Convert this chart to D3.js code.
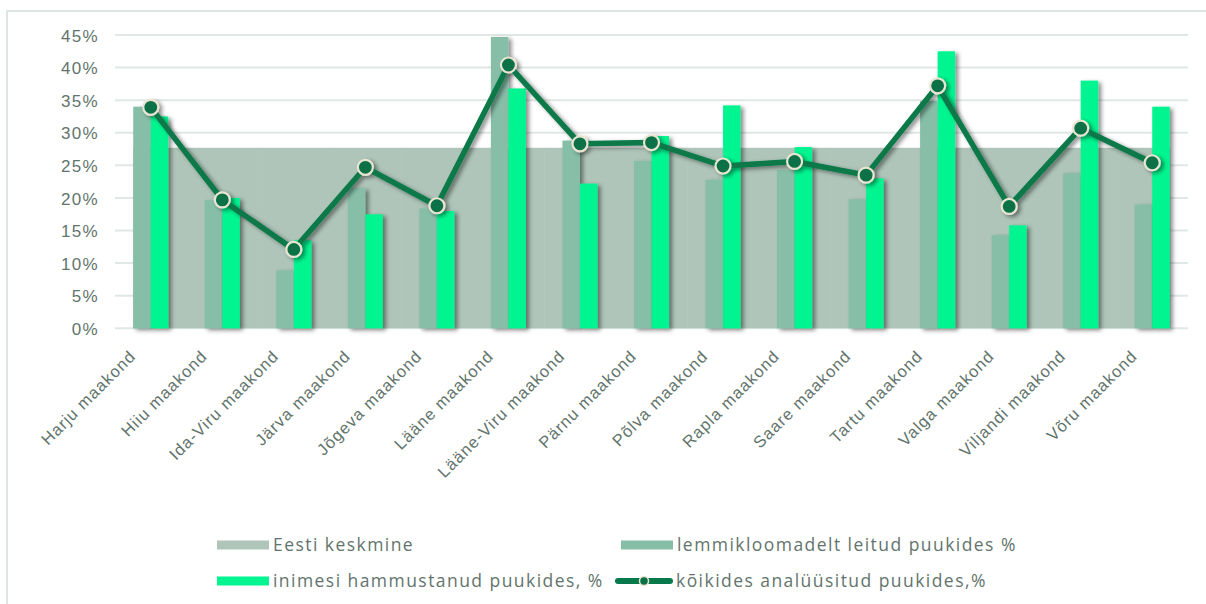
<!DOCTYPE html>
<html>
<head>
<meta charset="utf-8">
<script src="https://cdn.jsdelivr.net/npm/d3@7"></script>
<style>
  html, body { margin: 0; padding: 0; background: #ffffff; }
  svg { display: block; font-family: "Open Sans", "Noto Sans", sans-serif; }
</style>
</head>
<body>
<svg id="chart" width="1206" height="604"></svg>
<script>
// Counties
const categories = [
  "Harju maakond", "Hiiu maakond", "Ida-Viru maakond", "Järva maakond",
  "Jõgeva maakond", "Lääne maakond", "Lääne-Viru maakond", "Pärnu maakond",
  "Põlva maakond", "Rapla maakond", "Saare maakond", "Tartu maakond",
  "Valga maakond", "Viljandi maakond", "Võru maakond"
];
// Estonian average (%)
const eestiKeskmine = [27.7, 27.7, 27.7, 27.7, 27.7, 27.7, 27.7, 27.7, 27.7, 27.7, 27.7, 27.7, 27.7, 27.7, 27.7];
// Ticks removed from pets (%)
const lemmikloomad = [34.0, 19.7, 8.9, 21.5, 18.4, 44.7, 28.8, 25.7, 22.8, 24.3, 19.8, 34.9, 14.3, 23.8, 19.0];
// Ticks that bit people (%)
const inimesed = [32.5, 20.0, 13.5, 17.5, 18.0, 36.8, 22.2, 29.5, 34.2, 27.8, 23.0, 42.5, 15.8, 38.0, 34.0];
// All analysed ticks (%)
const koik = [33.9, 19.7, 12.1, 24.7, 18.8, 40.4, 28.3, 28.5, 24.9, 25.6, 23.5, 37.2, 18.7, 30.7, 25.4];
// Y-axis ticks
const yTicks = [0, 5, 10, 15, 20, 25, 30, 35, 40, 45];

const legendLabels = [
  "Eesti keskmine",
  "lemmikloomadelt leitud puukides %",
  "inimesi hammustanud puukides, %",
  "kõikides analüüsitud puukides,%"
];

const colors = {
  avg: "#afc5b9",
  pets: "#86bea8",
  people: "#00f590",
  line: "#08794a",
  marker: "#0a7147",
  markerRing: "#e9e5d2",
  grid: "#dfe8e5",
  text: "#62746c",
  frame: "#dde6e2"
};

const svg = d3.select("#chart");

const defs = svg.append("defs");
const shadow = defs.append("filter").attr("id", "shadow")
  .attr("x", "-30%").attr("y", "-10%").attr("width", "180%").attr("height", "130%");
shadow.append("feDropShadow")
  .attr("dx", 3).attr("dy", 2).attr("stdDeviation", 2)
  .attr("flood-color", "#000").attr("flood-opacity", 0.45);

// outer frame
svg.append("rect")
  .attr("x", 7).attr("y", 11).attr("width", 1240).attr("height", 640)
  .attr("fill", "none").attr("stroke", colors.frame).attr("stroke-width", 2);

const plotLeft = 115, plotRight = 1188, plotTop = 35, plotBottom = 328.3;

const x = d3.scaleBand().domain(categories).range([plotLeft, plotRight]).paddingInner(0).paddingOuter(0);
const y = d3.scaleLinear().domain([0, 45]).range([plotBottom, plotTop]);

const step = x.bandwidth();
const barW = step * 0.245;
const center = c => x(c) + step / 2;

// gridlines
svg.append("g").selectAll("line").data(yTicks).join("line")
  .attr("x1", plotLeft).attr("x2", plotRight)
  .attr("y1", d => y(d)).attr("y2", d => y(d))
  .attr("stroke", colors.grid).attr("stroke-width", 2);

// y axis labels
const yAxis = d3.axisLeft(y).tickValues(yTicks).tickFormat(d => d + "%").tickSize(0).tickPadding(0);
const yg = svg.append("g").attr("transform", `translate(${99},0)`).call(yAxis);
yg.select(".domain").remove();
yg.selectAll("text")
  .attr("fill", colors.text).attr("font-size", 17).attr("letter-spacing", 1.3)
  .attr("dy", "0.36em").attr("text-anchor", "end");

// Estonian average as a continuous block behind the county bars
const firstLeft = center(categories[0]) - barW;
const lastRight = center(categories[categories.length - 1]) + barW;
svg.append("g").selectAll("rect").data(categories).join("rect")
  .attr("x", c => Math.max(x(c), firstLeft))
  .attr("width", c => Math.min(x(c) + step, lastRight) - Math.max(x(c), firstLeft) + 0.5)
  .attr("y", (c, i) => y(eestiKeskmine[i]))
  .attr("height", (c, i) => plotBottom - y(eestiKeskmine[i]))
  .attr("fill", colors.avg);

// pet tick bars
svg.append("g").attr("filter", "url(#shadow)").selectAll("rect").data(categories).join("rect")
  .attr("x", c => center(c) - barW)
  .attr("width", barW)
  .attr("y", (c, i) => y(lemmikloomad[i]))
  .attr("height", (c, i) => plotBottom - y(lemmikloomad[i]))
  .attr("fill", colors.pets);

// human-bite tick bars
svg.append("g").attr("filter", "url(#shadow)").selectAll("rect").data(categories).join("rect")
  .attr("x", c => center(c))
  .attr("width", barW)
  .attr("y", (c, i) => y(inimesed[i]))
  .attr("height", (c, i) => plotBottom - y(inimesed[i]))
  .attr("fill", colors.people);

// line of all analysed ticks
const lineGen = d3.line().x((d, i) => center(categories[i])).y(d => y(d));
const lg = svg.append("g").attr("filter", "url(#shadow)");
lg.append("path").datum(koik)
  .attr("d", lineGen)
  .attr("fill", "none").attr("stroke", colors.line).attr("stroke-width", 5.5)
  .attr("stroke-linejoin", "round");
lg.selectAll("circle").data(koik).join("circle")
  .attr("cx", (d, i) => center(categories[i]))
  .attr("cy", d => y(d))
  .attr("r", 7.5)
  .attr("fill", colors.marker).attr("stroke", colors.markerRing).attr("stroke-width", 2.2);

// category labels
const xAxis = d3.axisBottom(x).tickSize(0).tickPadding(0);
const xg = svg.append("g").attr("transform", `translate(0,${plotBottom})`).call(xAxis);
xg.select(".domain").remove();
xg.selectAll("text")
  .attr("fill", colors.text).attr("font-size", 16.5).attr("letter-spacing", 1.05)
  .attr("text-anchor", "end")
  .attr("y", 0).attr("dy", 0)
  .attr("transform", "translate(-14,29) rotate(-45)");

// legend
const legend = svg.append("g").attr("font-size", 17.5).attr("fill", colors.text);
const legendItems = [
  { label: legendLabels[0], kind: "rect", color: colors.avg, sx: 217, ty: 545 },
  { label: legendLabels[1], kind: "rect", color: colors.pets, sx: 621, ty: 545 },
  { label: legendLabels[2], kind: "rect", color: colors.people, sx: 217, ty: 581 },
  { label: legendLabels[3], kind: "line", color: colors.line, sx: 616, ty: 581 }
];
legendItems.forEach(it => {
  const g = legend.append("g");
  if (it.kind === "rect") {
    g.append("rect").attr("x", it.sx).attr("y", it.ty - 4.5).attr("width", 52).attr("height", 9).attr("fill", it.color);
  } else {
    g.append("line").attr("x1", it.sx + 2).attr("x2", it.sx + 54).attr("y1", it.ty).attr("y2", it.ty)
      .attr("stroke", it.color).attr("stroke-width", 6).attr("stroke-linecap", "round");
    g.append("circle").attr("cx", it.sx + 28).attr("cy", it.ty).attr("r", 4.5)
      .attr("fill", colors.marker).attr("stroke", colors.markerRing).attr("stroke-width", 1.5);
  }
  g.append("text").attr("x", it.sx + (it.kind === "rect" ? 56 : 60)).attr("y", it.ty)
    .attr("dy", "0.35em").attr("letter-spacing", 1.45).text(it.label);
});
</script>
</body>
</html>
